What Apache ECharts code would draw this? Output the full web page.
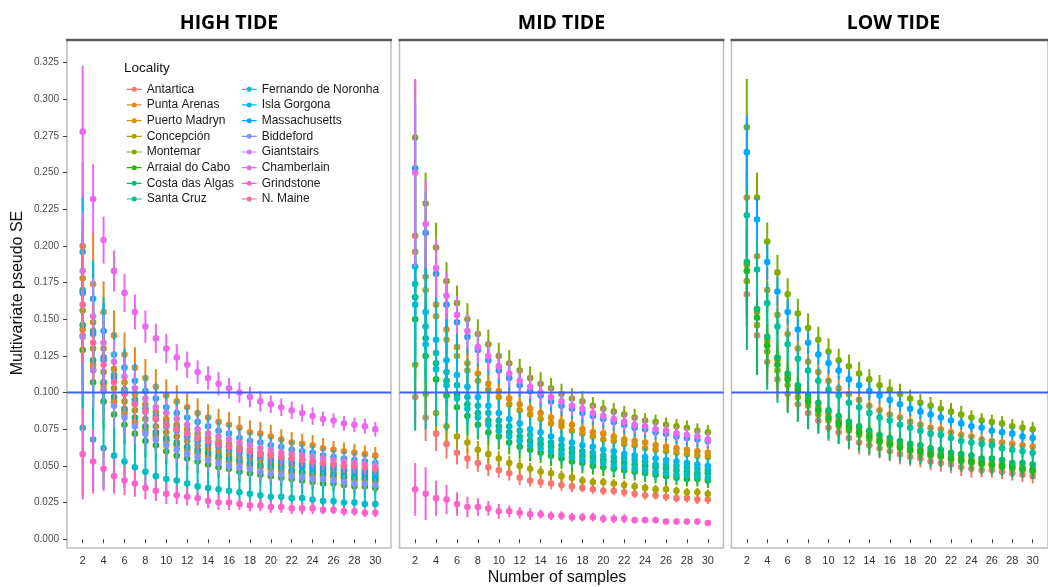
<!DOCTYPE html>
<html><head><meta charset="utf-8">
<script src="https://cdn.jsdelivr.net/npm/echarts@6/dist/echarts.min.js"></script>
<style>html,body{margin:0;padding:0;background:#fff}#c{width:1048px;height:587px}</style>
</head><body><div id="c"></div>
<script>
// ---------- data ----------
const nSamples = [2,3,4,5,6,7,8,9,10,11,12,13,14,15,16,17,18,19,20,21,22,23,24,25,26,27,28,29,30];
const xTickLabels = [2,4,6,8,10,12,14,16,18,20,22,24,26,28,30];
const yTickLabels = [0.000,0.025,0.050,0.075,0.100,0.125,0.150,0.175,0.200,0.225,0.250,0.275,0.300,0.325];
const refLineValue = 0.1;
const panelTitles = ['HIGH TIDE','MID TIDE','LOW TIDE'];
const localities = ['Antartica','Punta Arenas','Puerto Madryn','Concepción','Montemar','Arraial do Cabo','Costa das Algas','Santa Cruz','Fernando de Noronha','Isla Gorgona','Massachusetts','Biddeford','Giantstairs','Chamberlain','Grindstone','N. Maine'];
const localityColors = ['#F8766D','#E7851E','#CC9600','#AAA300','#7CAE00','#26B700','#00BD66','#00C19A','#00BFC4','#00B8E5','#00A9FF','#8195FF','#C77CFF','#EB69EF','#FD62CC','#FF6A9C'];

// HIGH TIDE means
const hiAntartica = [0.139,0.116,0.102,0.093,0.085,0.079,0.074,0.070,0.067,0.064,0.061,0.059,0.057,0.055,0.053,0.052,0.050,0.049,0.048,0.047,0.046,0.045,0.044,0.044,0.043,0.042,0.041,0.041,0.040];
const hiPuntaArenas = [0.200,0.174,0.155,0.139,0.126,0.117,0.110,0.104,0.098,0.094,0.090,0.086,0.083,0.080,0.078,0.076,0.073,0.072,0.070,0.068,0.066,0.065,0.064,0.062,0.061,0.060,0.059,0.058,0.057];
const hiPuertoMadryn = [0.143,0.119,0.105,0.094,0.087,0.080,0.075,0.071,0.067,0.064,0.061,0.059,0.057,0.055,0.053,0.052,0.050,0.049,0.048,0.046,0.045,0.045,0.044,0.043,0.042,0.041,0.040,0.040,0.039];
const hiConcepcion = [0.178,0.148,0.130,0.116,0.107,0.099,0.092,0.087,0.082,0.078,0.075,0.072,0.069,0.067,0.065,0.063,0.061,0.059,0.058,0.056,0.055,0.054,0.053,0.052,0.051,0.050,0.049,0.048,0.047];
const hiMontemar = [0.156,0.130,0.114,0.103,0.094,0.088,0.082,0.077,0.073,0.070,0.067,0.064,0.062,0.060,0.058,0.056,0.055,0.054,0.052,0.051,0.050,0.049,0.048,0.047,0.046,0.045,0.044,0.044,0.043];
const hiArraial = [0.129,0.107,0.094,0.085,0.078,0.072,0.067,0.064,0.060,0.057,0.055,0.053,0.051,0.049,0.048,0.046,0.045,0.044,0.043,0.042,0.041,0.040,0.039,0.038,0.038,0.037,0.036,0.036,0.035];
const hiCostaAlgas = [0.146,0.122,0.107,0.097,0.089,0.083,0.077,0.073,0.069,0.066,0.063,0.061,0.059,0.057,0.055,0.054,0.052,0.051,0.050,0.049,0.047,0.046,0.046,0.045,0.044,0.043,0.042,0.042,0.041];
const hiSantaCruz = [0.170,0.142,0.124,0.112,0.102,0.095,0.089,0.084,0.079,0.076,0.072,0.069,0.067,0.065,0.063,0.061,0.059,0.058,0.056,0.055,0.054,0.052,0.051,0.050,0.050,0.049,0.048,0.047,0.046];
const hiFernando = [0.076,0.068,0.062,0.057,0.053,0.049,0.046,0.043,0.041,0.040,0.038,0.036,0.035,0.034,0.033,0.032,0.031,0.030,0.029,0.029,0.028,0.028,0.027,0.026,0.026,0.025,0.025,0.024,0.024];
const hiIslaGorgona = [0.196,0.164,0.142,0.126,0.117,0.108,0.101,0.096,0.090,0.086,0.083,0.080,0.077,0.074,0.072,0.069,0.067,0.066,0.064,0.063,0.061,0.060,0.059,0.057,0.056,0.055,0.054,0.053,0.052];
const hiMassachusetts = [0.168,0.140,0.122,0.110,0.100,0.093,0.087,0.082,0.077,0.074,0.070,0.067,0.065,0.063,0.061,0.059,0.057,0.056,0.054,0.053,0.052,0.050,0.049,0.048,0.048,0.047,0.046,0.045,0.044];
const hiBiddeford = [0.138,0.115,0.101,0.091,0.083,0.077,0.072,0.068,0.064,0.061,0.058,0.056,0.054,0.052,0.050,0.049,0.048,0.046,0.045,0.044,0.043,0.042,0.041,0.041,0.040,0.039,0.038,0.038,0.037];
const hiGiantstairs = [0.183,0.152,0.134,0.121,0.111,0.103,0.096,0.090,0.086,0.082,0.078,0.075,0.072,0.070,0.068,0.066,0.064,0.062,0.061,0.059,0.058,0.057,0.056,0.055,0.054,0.053,0.052,0.051,0.050];
const hiChamberlain = [0.278,0.232,0.204,0.183,0.168,0.155,0.145,0.137,0.130,0.124,0.119,0.114,0.110,0.106,0.103,0.100,0.097,0.094,0.092,0.090,0.088,0.086,0.084,0.082,0.081,0.079,0.078,0.077,0.075];
const hiGrindstone = [0.058,0.053,0.048,0.043,0.040,0.038,0.035,0.033,0.031,0.030,0.029,0.028,0.026,0.025,0.025,0.024,0.023,0.023,0.022,0.022,0.021,0.021,0.021,0.020,0.020,0.019,0.019,0.018,0.018];
const hiNMaine = [0.160,0.134,0.119,0.107,0.099,0.092,0.087,0.082,0.078,0.075,0.072,0.069,0.067,0.065,0.063,0.061,0.060,0.058,0.057,0.056,0.055,0.054,0.053,0.052,0.051,0.050,0.050,0.049,0.048];
// HIGH TIDE error half-widths
const hiErrCluster = [0.040,0.026,0.019,0.015,0.013,0.012,0.011,0.010,0.009,0.009,0.008,0.008,0.008,0.007,0.007,0.007,0.006,0.006,0.006,0.006,0.006,0.005,0.005,0.005,0.005,0.005,0.005,0.005,0.004];
const hiErrPunta = [0.057,0.036,0.021,0.017,0.015,0.014,0.013,0.012,0.011,0.011,0.010,0.010,0.009,0.009,0.009,0.008,0.008,0.008,0.008,0.007,0.007,0.007,0.007,0.007,0.006,0.006,0.006,0.006,0.006];
const hiErrChamberlain = [0.045,0.024,0.016,0.014,0.013,0.012,0.011,0.010,0.010,0.009,0.009,0.008,0.008,0.008,0.007,0.007,0.007,0.007,0.006,0.006,0.006,0.006,0.006,0.005,0.005,0.005,0.005,0.005,0.005];
const hiErrGrindstone = [0.031,0.022,0.015,0.012,0.010,0.009,0.008,0.007,0.007,0.006,0.006,0.005,0.005,0.005,0.005,0.004,0.004,0.004,0.004,0.004,0.004,0.004,0.004,0.003,0.003,0.003,0.003,0.003,0.003];
const hiErrFernandoUp = [0.131,0.122,0.103,0.083,0.072,0.064,0.058,0.055,0.052,0.049,0.047,0.046,0.044,0.042,0.041,0.039,0.038,0.038,0.037,0.036,0.035,0.034,0.034,0.033,0.032,0.032,0.031,0.031,0.030];
const hiErrFernandoDown = [0.046,0.036,0.028,0.022,0.018,0.014,0.012,0.010,0.009,0.009,0.008,0.007,0.007,0.006,0.006,0.006,0.005,0.005,0.005,0.005,0.004,0.004,0.004,0.004,0.004,0.003,0.003,0.003,0.003];

// MID TIDE means
const miAntartica = [0.097,0.083,0.072,0.065,0.059,0.055,0.052,0.049,0.047,0.045,0.042,0.040,0.039,0.038,0.037,0.036,0.035,0.034,0.033,0.033,0.032,0.031,0.030,0.030,0.029,0.028,0.028,0.027,0.027];
const miPuntaArenas = [0.207,0.179,0.160,0.143,0.131,0.120,0.113,0.106,0.101,0.096,0.092,0.089,0.086,0.083,0.080,0.078,0.075,0.073,0.072,0.070,0.068,0.067,0.066,0.064,0.063,0.062,0.061,0.060,0.059];
const miPuertoMadryn = [0.196,0.170,0.152,0.136,0.125,0.115,0.108,0.102,0.097,0.092,0.088,0.085,0.082,0.079,0.077,0.074,0.072,0.070,0.068,0.067,0.065,0.064,0.062,0.061,0.060,0.059,0.058,0.057,0.056];
const miConcepcion = [0.119,0.099,0.086,0.077,0.070,0.066,0.061,0.058,0.055,0.052,0.050,0.048,0.046,0.045,0.043,0.042,0.040,0.039,0.039,0.038,0.037,0.036,0.035,0.034,0.034,0.033,0.032,0.032,0.031];
const miMontemar = [0.274,0.229,0.199,0.176,0.161,0.150,0.140,0.133,0.125,0.120,0.115,0.110,0.106,0.103,0.099,0.096,0.094,0.091,0.089,0.087,0.085,0.083,0.081,0.080,0.078,0.077,0.076,0.074,0.073];
const miArraial = [0.150,0.125,0.109,0.098,0.090,0.084,0.078,0.073,0.070,0.066,0.063,0.061,0.059,0.057,0.055,0.053,0.052,0.050,0.049,0.048,0.047,0.046,0.045,0.044,0.043,0.042,0.041,0.041,0.040];
const miCostaAlgas = [0.165,0.137,0.120,0.108,0.099,0.092,0.086,0.081,0.077,0.073,0.070,0.067,0.065,0.063,0.061,0.059,0.057,0.056,0.054,0.053,0.052,0.051,0.050,0.049,0.048,0.047,0.046,0.045,0.045];
const miSantaCruz = [0.174,0.145,0.127,0.114,0.105,0.097,0.091,0.086,0.081,0.077,0.074,0.071,0.068,0.066,0.064,0.062,0.060,0.059,0.057,0.056,0.055,0.054,0.053,0.051,0.051,0.050,0.049,0.048,0.047];
const miFernando = [0.160,0.133,0.116,0.105,0.096,0.089,0.083,0.078,0.074,0.070,0.067,0.064,0.062,0.060,0.058,0.056,0.054,0.053,0.052,0.050,0.049,0.048,0.047,0.046,0.045,0.044,0.044,0.043,0.042];
const miIslaGorgona = [0.186,0.155,0.136,0.122,0.112,0.104,0.097,0.091,0.086,0.082,0.079,0.075,0.073,0.070,0.068,0.066,0.064,0.063,0.061,0.060,0.058,0.057,0.056,0.055,0.054,0.053,0.052,0.051,0.050];
const miMassachusetts = [0.253,0.209,0.181,0.160,0.148,0.138,0.129,0.122,0.115,0.110,0.105,0.101,0.098,0.094,0.091,0.089,0.086,0.084,0.082,0.080,0.078,0.076,0.075,0.073,0.072,0.070,0.069,0.068,0.067];
const miChamberlain = [0.250,0.215,0.185,0.166,0.153,0.142,0.131,0.125,0.118,0.113,0.108,0.104,0.100,0.097,0.094,0.091,0.089,0.086,0.084,0.082,0.080,0.078,0.077,0.075,0.074,0.072,0.071,0.070,0.068];
const miGrindstone = [0.034,0.031,0.028,0.027,0.024,0.022,0.022,0.021,0.019,0.019,0.018,0.017,0.017,0.016,0.016,0.015,0.015,0.015,0.014,0.014,0.014,0.013,0.013,0.013,0.012,0.012,0.012,0.012,0.011];
// MID TIDE error half-widths
const miErrMontemar = [0.039,0.021,0.017,0.013,0.012,0.011,0.010,0.010,0.009,0.009,0.008,0.008,0.008,0.007,0.007,0.007,0.007,0.006,0.006,0.006,0.006,0.006,0.005,0.005,0.005,0.005,0.005,0.005,0.005];
const miErrChamberlain = [0.064,0.030,0.020,0.016,0.013,0.012,0.011,0.010,0.009,0.009,0.008,0.008,0.008,0.007,0.007,0.007,0.007,0.006,0.006,0.006,0.006,0.006,0.006,0.005,0.005,0.005,0.005,0.005,0.005];
const miErrUpper = [0.045,0.028,0.020,0.016,0.013,0.012,0.011,0.010,0.009,0.009,0.008,0.008,0.008,0.007,0.007,0.007,0.007,0.006,0.006,0.006,0.006,0.006,0.006,0.005,0.005,0.005,0.005,0.005,0.005];
const miErrSpine = [0.100,0.070,0.050,0.040,0.032,0.026,0.021,0.017,0.014,0.013,0.012,0.011,0.011,0.010,0.010,0.010,0.010,0.009,0.009,0.009,0.009,0.009,0.009,0.008,0.008,0.008,0.008,0.008,0.008];
const miErrTeal = [0.040,0.025,0.018,0.014,0.012,0.011,0.010,0.009,0.009,0.008,0.008,0.008,0.007,0.007,0.007,0.007,0.007,0.006,0.006,0.006,0.006,0.006,0.006,0.006,0.006,0.005,0.005,0.005,0.005];
const miErrLow = [0.022,0.016,0.012,0.010,0.008,0.007,0.006,0.006,0.005,0.005,0.005,0.004,0.004,0.004,0.004,0.004,0.003,0.003,0.003,0.003,0.003,0.003,0.003,0.003,0.003,0.003,0.003,0.003,0.003];
const miErrGrindstone = [0.018,0.018,0.012,0.010,0.008,0.007,0.006,0.005,0.005,0.004,0.004,0.004,0.003,0.003,0.003,0.003,0.003,0.003,0.003,0.003,0.003,0.002,0.002,0.002,0.002,0.002,0.002,0.002,0.002];

// LOW TIDE means
const loAntartica = [0.167,0.139,0.121,0.109,0.099,0.092,0.086,0.081,0.076,0.073,0.069,0.066,0.064,0.062,0.060,0.058,0.056,0.055,0.053,0.052,0.051,0.049,0.048,0.047,0.047,0.046,0.045,0.044,0.043];
const loPuntaArenas = [0.233,0.193,0.170,0.153,0.140,0.130,0.121,0.114,0.108,0.103,0.099,0.095,0.091,0.088,0.085,0.083,0.080,0.078,0.076,0.075,0.073,0.071,0.070,0.068,0.067,0.066,0.065,0.064,0.063];
const loPuertoMadryn = [0.187,0.155,0.135,0.122,0.111,0.103,0.096,0.090,0.086,0.081,0.078,0.075,0.072,0.069,0.067,0.065,0.063,0.061,0.060,0.058,0.057,0.056,0.054,0.053,0.052,0.051,0.050,0.049,0.048];
const loConcepcion = [0.176,0.146,0.128,0.115,0.105,0.097,0.091,0.085,0.081,0.077,0.074,0.071,0.068,0.066,0.064,0.062,0.060,0.058,0.057,0.056,0.054,0.053,0.052,0.051,0.050,0.049,0.048,0.047,0.046];
const loMontemar = [0.281,0.233,0.203,0.182,0.167,0.154,0.144,0.136,0.128,0.122,0.118,0.113,0.109,0.105,0.102,0.099,0.096,0.093,0.091,0.089,0.087,0.085,0.083,0.081,0.080,0.079,0.077,0.076,0.075];
const loArraial = [0.183,0.151,0.132,0.119,0.109,0.101,0.094,0.088,0.083,0.079,0.076,0.073,0.070,0.067,0.065,0.063,0.061,0.060,0.058,0.057,0.055,0.054,0.053,0.052,0.051,0.050,0.049,0.048,0.047];
const loCostaAlgas = [0.189,0.157,0.138,0.124,0.113,0.105,0.098,0.093,0.088,0.084,0.080,0.077,0.074,0.071,0.069,0.067,0.065,0.064,0.062,0.061,0.059,0.058,0.057,0.055,0.055,0.054,0.052,0.052,0.051];
const loSantaCruz = [0.221,0.184,0.161,0.145,0.133,0.123,0.115,0.108,0.102,0.098,0.093,0.090,0.086,0.083,0.081,0.078,0.076,0.074,0.072,0.071,0.069,0.067,0.066,0.065,0.064,0.062,0.061,0.060,0.059];
const loMassachusetts = [0.264,0.218,0.189,0.169,0.155,0.143,0.134,0.126,0.120,0.115,0.109,0.105,0.101,0.098,0.095,0.092,0.089,0.087,0.085,0.083,0.081,0.079,0.077,0.076,0.074,0.073,0.072,0.070,0.069];
// LOW TIDE error half-widths
const loErrMontemar = [0.033,0.017,0.013,0.012,0.011,0.010,0.010,0.009,0.009,0.008,0.008,0.008,0.007,0.007,0.007,0.007,0.006,0.006,0.006,0.006,0.006,0.006,0.005,0.005,0.005,0.005,0.005,0.005,0.005];
const loErrMass = [0.025,0.015,0.012,0.010,0.009,0.008,0.008,0.007,0.007,0.006,0.006,0.006,0.006,0.005,0.005,0.005,0.005,0.005,0.005,0.004,0.004,0.004,0.004,0.004,0.004,0.004,0.004,0.004,0.004];
const loErrGeneric = [0.030,0.020,0.015,0.013,0.011,0.010,0.009,0.009,0.008,0.008,0.007,0.007,0.007,0.006,0.006,0.006,0.006,0.006,0.005,0.005,0.005,0.005,0.005,0.005,0.005,0.004,0.004,0.004,0.004];
const loErrSpine = [0.060,0.045,0.036,0.031,0.027,0.025,0.023,0.021,0.020,0.019,0.018,0.017,0.016,0.015,0.015,0.014,0.014,0.013,0.013,0.012,0.012,0.012,0.011,0.011,0.011,0.011,0.010,0.010,0.010];
const loErrAntartica = [0.022,0.018,0.015,0.013,0.012,0.011,0.010,0.009,0.009,0.008,0.008,0.008,0.007,0.007,0.007,0.007,0.006,0.006,0.006,0.006,0.006,0.006,0.006,0.005,0.005,0.005,0.005,0.005,0.005];

// [locality, mean, error below, error above]
const highSpecs = [
  ['Antartica', hiAntartica, hiErrCluster, hiErrCluster],
  ['Punta Arenas', hiPuntaArenas, hiErrPunta, hiErrPunta],
  ['Puerto Madryn', hiPuertoMadryn, hiErrCluster, hiErrCluster],
  ['Concepción', hiConcepcion, hiErrCluster, hiErrCluster],
  ['Montemar', hiMontemar, hiErrCluster, hiErrCluster],
  ['Arraial do Cabo', hiArraial, hiErrCluster, hiErrCluster],
  ['Costa das Algas', hiCostaAlgas, hiErrCluster, hiErrCluster],
  ['Santa Cruz', hiSantaCruz, hiErrCluster, hiErrCluster],
  ['Fernando de Noronha', hiFernando, hiErrFernandoDown, hiErrFernandoUp],
  ['Isla Gorgona', hiIslaGorgona, hiErrCluster, hiErrCluster],
  ['Massachusetts', hiMassachusetts, hiErrCluster, hiErrCluster],
  ['Biddeford', hiBiddeford, hiErrCluster, hiErrCluster],
  ['Giantstairs', hiGiantstairs, hiErrCluster, hiErrCluster],
  ['Chamberlain', hiChamberlain, hiErrChamberlain, hiErrChamberlain],
  ['Grindstone', hiGrindstone, hiErrGrindstone, hiErrGrindstone],
  ['N. Maine', hiNMaine, hiErrCluster, hiErrCluster]
];
const midSpecs = [
  ['Antartica', miAntartica, miErrLow, miErrLow],
  ['Punta Arenas', miPuntaArenas, miErrUpper, miErrUpper],
  ['Puerto Madryn', miPuertoMadryn, miErrUpper, miErrUpper],
  ['Concepción', miConcepcion, miErrLow, miErrLow],
  ['Montemar', miMontemar, miErrMontemar, miErrMontemar],
  ['Arraial do Cabo', miArraial, miErrTeal, miErrTeal],
  ['Costa das Algas', miCostaAlgas, miErrTeal, miErrTeal],
  ['Santa Cruz', miSantaCruz, miErrSpine, miErrSpine],
  ['Fernando de Noronha', miFernando, miErrTeal, miErrTeal],
  ['Isla Gorgona', miIslaGorgona, miErrUpper, miErrUpper],
  ['Massachusetts', miMassachusetts, miErrUpper, miErrUpper],
  ['Chamberlain', miChamberlain, miErrChamberlain, miErrChamberlain],
  ['Grindstone', miGrindstone, miErrGrindstone, miErrGrindstone]
];
const lowSpecs = [
  ['Antartica', loAntartica, loErrAntartica, loErrAntartica],
  ['Punta Arenas', loPuntaArenas, loErrGeneric, loErrGeneric],
  ['Puerto Madryn', loPuertoMadryn, loErrGeneric, loErrGeneric],
  ['Concepción', loConcepcion, loErrGeneric, loErrGeneric],
  ['Montemar', loMontemar, loErrMontemar, loErrMontemar],
  ['Arraial do Cabo', loArraial, loErrGeneric, loErrGeneric],
  ['Costa das Algas', loCostaAlgas, loErrSpine, loErrSpine],
  ['Santa Cruz', loSantaCruz, loErrGeneric, loErrGeneric],
  ['Massachusetts', loMassachusetts, loErrMass, loErrMass]
];
const panelSpecs = [highSpecs, midSpecs, lowSpecs];

// ---------- chart ----------
const FONT = "'Liberation Sans', Arial, sans-serif";
const panelLeft = [67, 399.5, 731.5];
const panelTop = 40, panelW = 324, panelH = 508;
const xMin = 0.5, xMax = 31.5, yMin = -0.006, yMax = 0.3405;

const colorOf = name => localityColors[localities.indexOf(name)];

function renderPointRange(params, api) {
  const x = api.value(0);
  const p = api.coord([x, api.value(1)]);
  const lo = api.coord([x, api.value(2)]);
  const hi = api.coord([x, api.value(3)]);
  const c = api.visual('color');
  return {
    type: 'group',
    children: [
      {type: 'line', shape: {x1: p[0], y1: lo[1], x2: p[0], y2: hi[1]}, style: {stroke: c, lineWidth: 2}},
      {type: 'circle', shape: {cx: p[0], cy: p[1], r: 3.3}, style: {fill: c}}
    ]
  };
}

const grids = [], xAxes = [], yAxes = [], series = [], graphics = [];
panelLeft.forEach((left, p) => {
  grids.push({left: left, top: panelTop, width: panelW, height: panelH, show: true,
    borderColor: '#bdbdbd', borderWidth: 1.5, backgroundColor: '#ffffff'});
  xAxes.push({type: 'value', gridIndex: p, min: xMin, max: xMax,
    axisLine: {show: false}, splitLine: {show: false},
    axisTick: {show: true, customValues: xTickLabels, length: 4, lineStyle: {color: '#444', width: 1}},
    axisLabel: {customValues: xTickLabels, color: '#333', fontSize: 11, margin: 7, fontFamily: FONT}});
  yAxes.push({type: 'value', gridIndex: p, min: yMin, max: yMax,
    axisLine: {show: false}, splitLine: {show: false},
    axisTick: {show: p === 0, customValues: yTickLabels, length: 4, lineStyle: {color: '#444', width: 1}},
    axisLabel: {show: p === 0, customValues: yTickLabels, formatter: v => v.toFixed(3),
      color: '#4d4d4d', fontSize: 10, margin: 8, fontFamily: FONT}});

  panelSpecs[p].forEach(([name, mean, dn, up]) => {
    series.push({
      type: 'custom', name: name, xAxisIndex: p, yAxisIndex: p, z: 2,
      itemStyle: {color: colorOf(name)},
      renderItem: renderPointRange,
      encode: {x: 0, y: [1, 2, 3]},
      data: nSamples.map((n, i) => [n, mean[i], mean[i] - dn[i], mean[i] + up[i]])
    });
  });
  // reference line at 0.1
  series.push({
    type: 'custom', xAxisIndex: p, yAxisIndex: p, z: 5, silent: true,
    encode: {x: 0, y: 1},
    data: [[xMin, refLineValue]],
    renderItem: (params, api) => {
      const cs = params.coordSys;
      const y = api.coord([api.value(0), api.value(1)])[1];
      return {type: 'line', shape: {x1: cs.x, y1: y, x2: cs.x + cs.width, y2: y},
        style: {stroke: '#3f60f0', lineWidth: 2}};
    }
  });

  graphics.push({type: 'line', shape: {x1: left - 1, y1: panelTop, x2: left + panelW + 1, y2: panelTop},
    style: {stroke: '#5a5a5a', lineWidth: 2.5}, z: 10});
  graphics.push({type: 'text', x: left + panelW / 2, y: 23.5, z: 10,
    style: {text: panelTitles[p], font: "bold 19.5px 'Open Sans', sans-serif", fill: '#000',
      textAlign: 'center', textVerticalAlign: 'middle'}});
});

graphics.push({type: 'text', x: 124, y: 68, z: 10,
  style: {text: 'Locality', font: "13.5px " + FONT, fill: '#111', textAlign: 'left', textVerticalAlign: 'middle'}});
graphics.push({type: 'text', x: 557, y: 578, z: 10,
  style: {text: 'Number of samples', font: "16px " + FONT, fill: '#111', textAlign: 'center', textVerticalAlign: 'middle'}});
graphics.push({type: 'text', x: 18, y: 293, rotation: Math.PI / 2, z: 10,
  style: {text: 'Multivariate pseudo SE', font: "16px " + FONT, fill: '#111', textAlign: 'center', textVerticalAlign: 'middle'}});

const legendIcon = 'path://M0,2.4L15,2.4L15,3.6L0,3.6Z M5,3A2.5,2.5,0,1,1,10,3A2.5,2.5,0,1,1,5,3Z';
const legendBase = {orient: 'vertical', top: 83.3, itemWidth: 15, itemHeight: 5, itemGap: 3.67,
  padding: 0, icon: legendIcon, selectedMode: false,
  textStyle: {fontSize: 12, color: '#1a1a1a', lineHeight: 12, fontFamily: FONT}};

const chart = echarts.init(document.getElementById('c'), null, {renderer: 'canvas'});
chart.setOption({
  animation: false,
  backgroundColor: '#ffffff',
  grid: grids,
  xAxis: xAxes,
  yAxis: yAxes,
  legend: [
    Object.assign({}, legendBase, {left: 126.7, data: localities.slice(0, 8)}),
    Object.assign({}, legendBase, {left: 241.7, data: localities.slice(8)})
  ],
  graphic: graphics,
  series: series
});
</script></body></html>
